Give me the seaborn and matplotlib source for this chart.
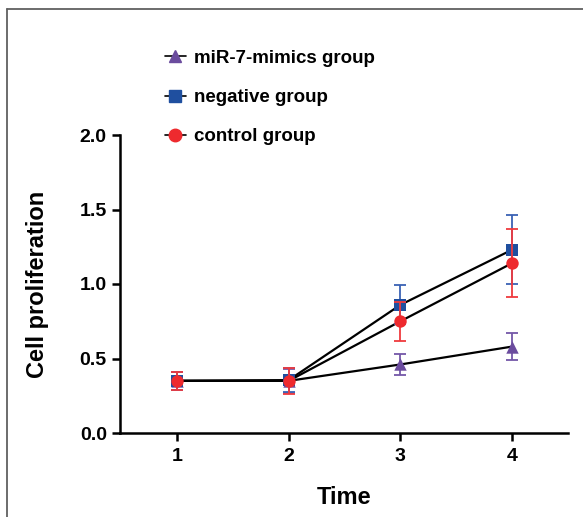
import numpy as np
import pandas as pd
import matplotlib
matplotlib.use('Agg')
import matplotlib.pyplot as plt
from matplotlib.lines import Line2D
import seaborn as sns

TIME = [1, 2, 3, 4]
GROUPS = ['miR-7-mimics group', 'negative group', 'control group']
MIMICS = [0.35, 0.35, 0.46, 0.58]
MIMICS_ERR = [0.06, 0.08, 0.07, 0.09]
NEGATIVE = [0.35, 0.355, 0.86, 1.23]
NEGATIVE_ERR = [0.06, 0.08, 0.13, 0.23]
CONTROL = [0.35, 0.35, 0.75, 1.14]
CONTROL_ERR = [0.06, 0.085, 0.13, 0.23]

COLORS = {'miR-7-mimics group': '#6b4c9e',
          'negative group': '#1f4f9f',
          'control group': '#ee2a2e'}
ERR_COLORS = {'miR-7-mimics group': '#7457a8',
              'negative group': '#3a62b4',
              'control group': '#ef3a3e'}
MARKERS = {'miR-7-mimics group': '^',
           'negative group': 's',
           'control group': 'o'}

sns.set_style('ticks')
plt.rcParams['font.family'] = ['Liberation Sans', 'DejaVu Sans']
plt.rcParams['font.weight'] = 'bold'
plt.rcParams['text.color'] = 'black'
plt.rcParams['axes.labelcolor'] = 'black'
plt.rcParams['xtick.color'] = 'black'
plt.rcParams['ytick.color'] = 'black'

df = pd.DataFrame({
    'Time': TIME * 3,
    'value': MIMICS + NEGATIVE + CONTROL,
    'err': MIMICS_ERR + NEGATIVE_ERR + CONTROL_ERR,
    'group': [g for g in GROUPS for _ in TIME],
})

fig = plt.figure(figsize=(5.83, 5.17), dpi=100)
ax = fig.add_axes([120 / 583, 84 / 517, 448 / 583, 298 / 517])

# black connecting lines
for g in GROUPS:
    sub = df[df['group'] == g]
    sns.lineplot(data=sub, x='Time', y='value', color='black', linewidth=1.6,
                 ax=ax, legend=False, zorder=2)

# error bars and markers per group
for i, g in enumerate(GROUPS):
    sub = df[df['group'] == g]
    ax.errorbar(sub['Time'], sub['value'], yerr=sub['err'], fmt='none',
                ecolor=ERR_COLORS[g], elinewidth=1.3, capsize=4.6,
                capthick=1.3, zorder=3 + 2 * i)
    sns.scatterplot(data=sub, x='Time', y='value', marker=MARKERS[g],
                    color=COLORS[g], s=80, linewidth=0, ax=ax,
                    legend=False, zorder=4 + 2 * i)

ax.set_xlim(0.49, 4.5)
ax.set_ylim(0, 2.0)
ax.set_xticks(TIME)
ax.set_yticks([0.0, 0.5, 1.0, 1.5, 2.0])
ax.set_yticklabels(['0.0', '0.5', '1.0', '1.5', '2.0'])
ax.tick_params(axis='both', labelsize=14, width=1.8, length=6, color='black',
               labelcolor='black')
ax.tick_params(axis='x', pad=5)
for lab in ax.get_xticklabels() + ax.get_yticklabels():
    lab.set_fontweight('bold')
ax.set_xlabel('Time', fontsize=17, fontweight='bold', labelpad=15)
ax.set_ylabel('Cell proliferation', fontsize=17, fontweight='bold', labelpad=22)
sns.despine(ax=ax)
for side in ['left', 'bottom']:
    ax.spines[side].set_linewidth(1.8)
    ax.spines[side].set_color('black')

handles = [Line2D([0], [0], color='black', linewidth=1.2, marker=MARKERS[g],
                  markerfacecolor=COLORS[g], markeredgecolor=COLORS[g],
                  markersize=9) for g in GROUPS]
fig.legend(handles, GROUPS, loc='upper left', bbox_to_anchor=(148 / 583, 1 - 33 / 517),
           frameon=False, handlelength=1.1, handletextpad=0.45,
           labelspacing=1.17, prop={'weight': 'bold', 'size': 13.5})

# outer frame of the panel
fig.add_artist(Line2D([7 / 583, 1], [1 - 9 / 517, 1 - 9 / 517], color='#606060',
                      linewidth=1.3, transform=fig.transFigure))
fig.add_artist(Line2D([7 / 583, 7 / 583], [0, 1 - 9 / 517], color='#606060',
                      linewidth=1.3, transform=fig.transFigure))

fig.savefig('out.png', dpi=100)
